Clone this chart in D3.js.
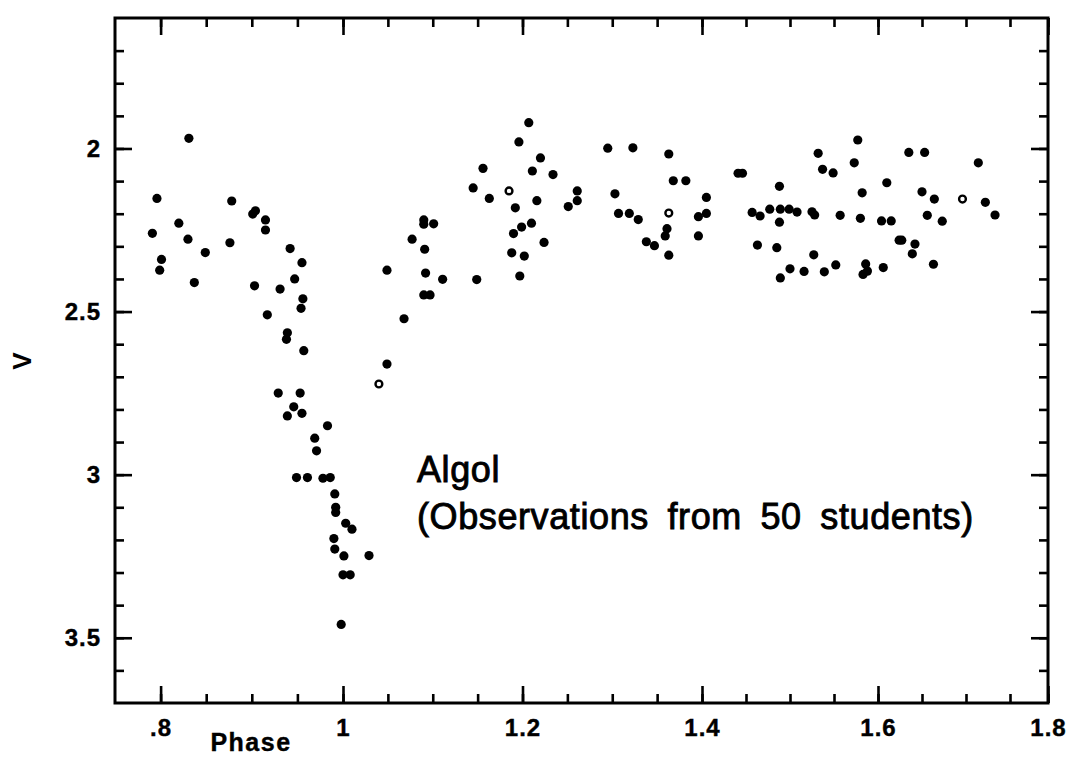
<!DOCTYPE html>
<html>
<head>
<meta charset="utf-8">
<script src="https://cdn.jsdelivr.net/npm/d3@7"></script>
<style>
  html, body { margin: 0; padding: 0; background: #fff; }
  svg { display: block; }
  text { font-family: "Liberation Sans", Arial, Helvetica, sans-serif; fill: #000; }
</style>
</head>
<body>
<div id="chart"></div>
<script>
// Algol light curve
const phase = [
  0.791, 0.796, 0.801, 0.799, 0.831, 0.820, 0.830, 0.837, 0.849, 0.878,
  0.876, 0.904, 0.901, 0.915, 0.915, 0.903, 0.917, 0.931, 0.942, 0.947,
  0.955, 0.956, 0.954, 0.939, 0.938, 0.957, 0.929, 0.953, 0.946, 0.955,
  0.939, 0.983, 0.969, 0.971, 0.949, 0.961, 0.978, 0.986, 0.991, 0.992,
  0.992, 1.003, 1.010, 0.990, 0.991, 1.001, 1.029, 1.000, 1.008, 0.998,
  1.049, 1.049, 1.068, 1.077, 1.090, 1.090, 1.101, 1.091, 1.092, 1.111,
  1.090, 1.097, 1.149, 1.145, 1.156, 1.163, 1.192, 1.196, 1.207, 1.220,
  1.211, 1.234, 1.216, 1.210, 1.199, 1.190, 1.224, 1.188, 1.202, 1.197,
  1.251, 1.261, 1.261, 1.295, 1.323, 1.303, 1.307, 1.319, 1.329, 1.338,
  1.347, 1.363, 1.368, 1.382, 1.361, 1.359, 1.363, 1.396, 1.396, 1.405,
  1.405, 1.441, 1.446, 1.457, 1.466, 1.463, 1.477, 1.489, 1.499, 1.508,
  1.488, 1.488, 1.485, 1.489, 1.500, 1.516, 1.525, 1.528, 1.527, 1.539,
  1.532, 1.537, 1.549, 1.552, 1.557, 1.577, 1.573, 1.582, 1.580, 1.586,
  1.588, 1.583, 1.606, 1.610, 1.604, 1.615, 1.624, 1.627, 1.635, 1.653,
  1.642, 1.639, 1.650, 1.664, 1.656, 1.673, 1.663, 1.714, 1.722, 1.733
];
const vmag = [
  2.260, 2.153, 2.340, 2.373, 1.969, 2.229, 2.278, 2.411, 2.319, 2.161,
  2.289, 2.191, 2.201, 2.219, 2.250, 2.421, 2.510, 2.431, 2.307, 2.400,
  2.350, 2.461, 2.490, 2.565, 2.585, 2.620, 2.750, 2.750, 2.792, 2.812,
  2.820, 2.850, 2.888, 2.927, 3.009, 3.009, 3.011, 3.009, 3.059, 3.100,
  3.116, 3.149, 3.167, 3.196, 3.228, 3.249, 3.248, 3.307, 3.307, 3.459,
  2.661, 2.373, 2.522, 2.278, 2.219, 2.232, 2.231, 2.309, 2.382, 2.401,
  2.449, 2.449, 2.402, 2.121, 2.061, 2.153, 2.182, 1.980, 1.921, 2.029,
  2.069, 2.080, 2.160, 2.229, 2.241, 2.261, 2.288, 2.320, 2.330, 2.391,
  2.178, 2.130, 2.160, 1.999, 1.998, 2.139, 2.199, 2.199, 2.218, 2.286,
  2.298, 2.017, 2.099, 2.099, 2.246, 2.268, 2.327, 2.209, 2.268, 2.150,
  2.199, 2.076, 2.076, 2.196, 2.207, 2.296, 2.186, 2.186, 2.186, 2.195,
  2.116, 2.226, 2.304, 2.397, 2.369, 2.377, 2.194, 2.204, 2.326, 2.378,
  2.015, 2.064, 2.075, 2.357, 2.205, 1.974, 2.044, 2.136, 2.214, 2.354,
  2.376, 2.386, 2.365, 2.105, 2.222, 2.222, 2.281, 2.281, 2.012, 2.012,
  2.293, 2.323, 2.133, 2.155, 2.205, 2.223, 2.355, 2.044, 2.165, 2.204
];
// the few hollow symbols
const openPhase = [1.040, 1.185, 1.363, 1.696];
const openVmag = [2.722, 2.130, 2.198, 2.155];

const xTicks = [0.8, 1, 1.2, 1.4, 1.6, 1.8];
const xTickLabels = [".8", "1", "1.2", "1.4", "1.6", "1.8"];
const yTicks = [2, 2.5, 3, 3.5];
const yTickLabels = ["2", "2.5", "3", "3.5"];

const width = 1068, height = 758;
const frame = { left: 115, right: 1048, top: 18, bottom: 703 };

const svg = d3.select("#chart")
  .append("svg")
  .attr("width", width)
  .attr("height", height);

// the scan is a little stretched, so the phase axis is piecewise
const x = d3.scaleLinear()
  .domain([0.75, 1, 1.4, 1.75, 1.8])
  .range([frame.left, 343, 702, 1010, frame.right]);

const y = d3.scaleLinear()
  .domain([1.6, 3.7])
  .range([frame.top, frame.bottom]);

const xMinor = d3.range(0, 21).map(i => 0.8 + i * 0.05);
const yMinor = d3.range(0, 20).map(i => 1.7 + i * 0.1);

function styleAxis(g) {
  g.select(".domain").remove();
  g.selectAll(".tick line").attr("stroke", "#000").attr("stroke-width", 2.6);
  g.selectAll(".tick text")
    .style("font-size", "24px")
    .style("font-weight", "bold")
    .style("letter-spacing", "1px")
    .attr("stroke", "#000")
    .attr("stroke-width", 0.4);
}

// minor ticks, all four sides, pointing inwards
svg.append("g")
  .attr("transform", `translate(0,${frame.bottom})`)
  .call(d3.axisBottom(x).tickValues(xMinor).tickSizeInner(-9).tickSizeOuter(0).tickFormat(""))
  .call(styleAxis);
svg.append("g")
  .attr("transform", `translate(0,${frame.top})`)
  .call(d3.axisTop(x).tickValues(xMinor).tickSizeInner(-9).tickSizeOuter(0).tickFormat(""))
  .call(styleAxis);
svg.append("g")
  .attr("transform", `translate(${frame.left},0)`)
  .call(d3.axisLeft(y).tickValues(yMinor).tickSizeInner(-9).tickSizeOuter(0).tickFormat(""))
  .call(styleAxis);
svg.append("g")
  .attr("transform", `translate(${frame.right},0)`)
  .call(d3.axisRight(y).tickValues(yMinor).tickSizeInner(-9).tickSizeOuter(0).tickFormat(""))
  .call(styleAxis);

// major ticks + labels
svg.append("g")
  .attr("transform", `translate(0,${frame.bottom})`)
  .call(d3.axisBottom(x).tickValues(xTicks).tickSizeInner(-17).tickSizeOuter(0)
    .tickPadding(16).tickFormat((d, i) => xTickLabels[i]))
  .call(styleAxis);
svg.append("g")
  .attr("transform", `translate(0,${frame.top})`)
  .call(d3.axisTop(x).tickValues(xTicks).tickSizeInner(-17).tickSizeOuter(0).tickFormat(""))
  .call(styleAxis);
svg.append("g")
  .attr("transform", `translate(${frame.left},0)`)
  .call(d3.axisLeft(y).tickValues(yTicks).tickSizeInner(-17).tickSizeOuter(0)
    .tickPadding(14).tickFormat((d, i) => yTickLabels[i]))
  .call(styleAxis);
svg.append("g")
  .attr("transform", `translate(${frame.right},0)`)
  .call(d3.axisRight(y).tickValues(yTicks).tickSizeInner(-17).tickSizeOuter(0).tickFormat(""))
  .call(styleAxis);

// frame
svg.append("rect")
  .attr("x", frame.left)
  .attr("y", frame.top)
  .attr("width", frame.right - frame.left)
  .attr("height", frame.bottom - frame.top)
  .attr("fill", "none")
  .attr("stroke", "#000")
  .attr("stroke-width", 3);

// points
svg.append("g")
  .selectAll("circle")
  .data(phase.map((p, i) => [p, vmag[i]]))
  .join("circle")
  .attr("cx", d => x(d[0]))
  .attr("cy", d => y(d[1]))
  .attr("r", 4.6)
  .attr("fill", "#000");

svg.append("g")
  .selectAll("circle")
  .data(openPhase.map((p, i) => [p, openVmag[i]]))
  .join("circle")
  .attr("cx", d => x(d[0]))
  .attr("cy", d => y(d[1]))
  .attr("r", 3.4)
  .attr("fill", "#fff")
  .attr("stroke", "#000")
  .attr("stroke-width", 2.4);

// axis titles
svg.append("text")
  .attr("x", 251)
  .attr("y", 751)
  .attr("text-anchor", "middle")
  .style("font-size", "25px")
  .style("font-weight", "bold")
  .style("letter-spacing", "1.5px")
  .attr("stroke", "#000")
  .attr("stroke-width", 0.4)
  .text("Phase");

svg.append("text")
  .attr("transform", "translate(22,361) rotate(-90)")
  .attr("text-anchor", "middle")
  .attr("dy", "0.35em")
  .style("font-size", "26px")
  .style("font-weight", "bold")
  .text("V");

// annotation (slightly heavier than plain regular, like the scan)
const note = svg.append("text")
  .attr("x", 417)
  .style("font-size", "36px")
  .style("letter-spacing", "0.6px")
  .style("word-spacing", "8px")
  .attr("stroke", "#000")
  .attr("stroke-width", 0.9);
note.append("tspan").attr("x", 417).attr("y", 482).text("Algol");
note.append("tspan").attr("x", 417).attr("y", 529).text("(Observations from 50 students)");
</script>
</body>
</html>
